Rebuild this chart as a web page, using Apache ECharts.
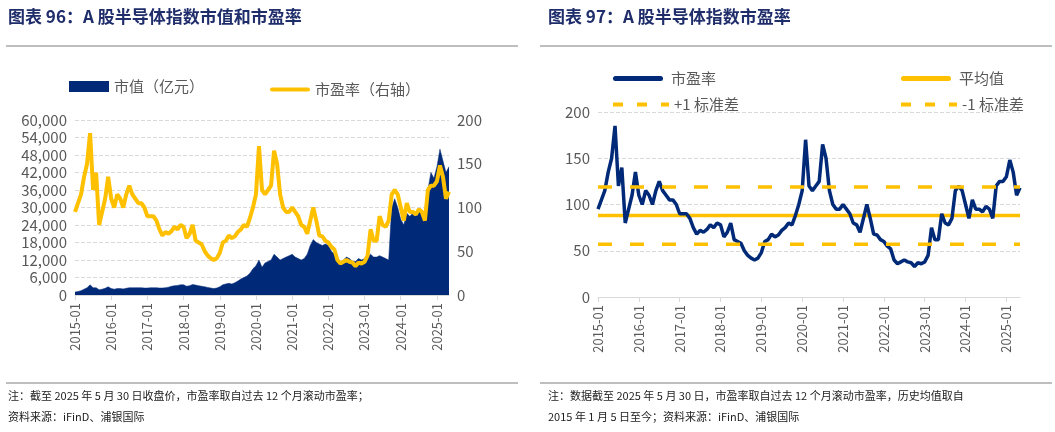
<!DOCTYPE html>
<html><head><meta charset="utf-8">
<script src="https://cdn.jsdelivr.net/npm/echarts@6/dist/echarts.min.js"></script>
<style>html,body{margin:0;padding:0;background:#fff}#c{width:1055px;height:432px}</style>
</head><body><div id="c"></div>
<script>
const months = [];
for (let y = 2015; y <= 2025; y++) for (let m = 1; m <= 12; m++) { if (y === 2025 && m > 5) break; months.push(y + '-' + String(m).padStart(2, '0')); }
const peValues = [95,105,115,135,150,185,120,140,80,95,110,135,
 110,100,115,110,100,115,125,115,110,105,105,100,
 90,90,90,85,75,68,72,70,73,78,75,80,
 78,65,70,80,62,60,58,50,45,42,40,42,
 48,60,62,68,65,67,72,75,80,78,88,100,
 115,170,120,115,120,125,165,150,115,100,95,95,
 100,95,90,80,78,70,85,100,85,68,67,62,
 60,55,52,40,36,38,40,38,37,33,37,36,
 38,45,75,62,62,90,80,78,85,115,120,115,
 100,85,105,95,95,92,98,95,85,120,125,125,
 130,148,135,110,118];
const mcapValues = [1000,1200,1500,2000,2500,3500,2500,2500,1800,2000,2300,2800,
 2200,2000,2200,2200,2100,2300,2500,2500,2500,2500,2500,2400,
 2400,2500,2500,2500,2400,2400,2500,2700,3000,3200,3300,3500,
 3500,3000,3200,3600,3400,3200,3000,2800,2600,2400,2200,2400,
 2800,3500,3800,4000,3800,4200,4800,5500,6000,6500,7500,9000,
 10000,12000,9500,11000,11500,12000,14000,13000,12000,12500,13000,13500,
 14000,13000,12500,12000,12500,14000,17000,19000,18000,17500,17000,17500,
 17000,15000,14000,12000,11000,12000,13000,12500,11500,11500,12500,12000,
 12500,13000,14000,13000,13000,13500,13000,12500,12000,30000,33000,30000,
 26000,24000,28000,27000,28000,27000,29000,28000,27000,36000,42000,40000,
 44000,50000,46000,42000,44000];
const peMean = 88, pePlus = 119, peMinus = 57;
const title1 = '图表 96：A 股半导体指数市值和市盈率';
const title2 = '图表 97：A 股半导体指数市盈率';
const note1 = '注：截至 2025 年 5 月 30 日收盘价，市盈率取自过去 12 个月滚动市盈率；';
const src1 = '资料来源：iFinD、浦银国际';
const note2 = '注：数据截至 2025 年 5 月 30 日，市盈率取自过去 12 个月滚动市盈率，历史均值取自';
const src2 = '2015 年 1 月 5 日至今；资料来源：iFinD、浦银国际';

const NAVY = '#002a77', GOLD = '#ffc000', GREY = '#595959';
const FONT = '"Noto Sans CJK SC","Noto Sans",sans-serif';
const xLab = {rotate: 90, color: GREY, fontSize: 13, fontFamily: FONT,
  interval: (i, v) => v.endsWith('-01'), formatter: v => v};
const xTick = {show: true, length: 5, lineStyle: {color: '#d9d9d9'}, interval: (i, v) => v.endsWith('-01')};
const yLab = {color: GREY, fontSize: 15, fontFamily: FONT};
const split = {show: true, lineStyle: {color: '#d9d9d9', type: 'dashed'}};
const c = (v) => new Array(months.length).fill(v);
const LINE_ICON = 'path://M2,0h36a2,2 0 0 1 0,4h-36a2,2 0 0 1 0,-4z';
const DASH_ICON = 'path://M0,0h10v4h-10z M24,0h10v4h-10z M48,0h8v4h-8z';

const chart = echarts.init(document.getElementById('c'));
chart.setOption({
  animation: false,
  textStyle: {fontFamily: FONT},
  graphic: [
    {type: 'text', left: 8, top: 8, style: {text: title1, fontSize: 17, fontWeight: 'bold', fill: '#1f2d6b', fontFamily: FONT}},
    {type: 'text', left: 548, top: 8, style: {text: title2, fontSize: 17, fontWeight: 'bold', fill: '#1f2d6b', fontFamily: FONT}},
    {type: 'line', shape: {x1: 6, y1: 46, x2: 518, y2: 46}, style: {stroke: '#7f7f7f', lineWidth: 1}},
    {type: 'line', shape: {x1: 540, y1: 46, x2: 1052, y2: 46}, style: {stroke: '#7f7f7f', lineWidth: 1}},
    {type: 'line', shape: {x1: 6, y1: 383, x2: 518, y2: 383}, style: {stroke: '#7f7f7f', lineWidth: 1}},
    {type: 'line', shape: {x1: 540, y1: 383, x2: 1052, y2: 383}, style: {stroke: '#7f7f7f', lineWidth: 1}},
    {type: 'text', left: 8, top: 390, style: {text: note1, fontSize: 11, fill: '#222', fontFamily: FONT}},
    {type: 'text', left: 8, top: 411, style: {text: src1, fontSize: 11, fill: '#222', fontFamily: FONT}},
    {type: 'text', left: 548, top: 390, style: {text: note2, fontSize: 11, fill: '#222', fontFamily: FONT}},
    {type: 'text', left: 548, top: 411, style: {text: src2, fontSize: 11, fill: '#222', fontFamily: FONT}}
  ],
  legend: [
    {data: [{name: '市值（亿元）', icon: 'rect'}], left: 64, top: 74, itemWidth: 40, itemHeight: 11,
      textStyle: {color: GREY, fontSize: 15}},
    {data: [{name: '市盈率（右轴）', icon: LINE_ICON}], left: 265, top: 77, itemWidth: 40, itemHeight: 5,
      textStyle: {color: GREY, fontSize: 15}},
    {data: [{name: '市盈率', icon: LINE_ICON}, {name: '平均值', icon: LINE_ICON}], left: 608, top: 66, itemWidth: 56, itemHeight: 5, itemGap: 185, textStyle: {color: GREY, fontSize: 15}},
    {data: [{name: '+1 标准差', icon: DASH_ICON}, {name: '-1 标准差', icon: DASH_ICON}], left: 608, top: 92, itemWidth: 56, itemHeight: 5, itemGap: 162, textStyle: {color: GREY, fontSize: 15}}
  ],
  grid: [
    {left: 75, right: 606, top: 120, bottom: 137},
    {left: 598, right: 35, top: 112, bottom: 135}
  ],
  xAxis: [
    {type: 'category', gridIndex: 0, data: months, boundaryGap: false, axisLabel: xLab, axisTick: xTick,
      axisLine: {lineStyle: {color: '#d9d9d9'}}},
    {type: 'category', gridIndex: 1, data: months, boundaryGap: false, axisLabel: xLab, axisTick: xTick,
      axisLine: {lineStyle: {color: '#d9d9d9'}}}
  ],
  yAxis: [
    {type: 'value', gridIndex: 0, min: 0, max: 60000, interval: 6000, axisLabel: Object.assign({}, yLab, {formatter: v => v.toLocaleString('en-US')}), splitLine: split},
    {type: 'value', gridIndex: 0, min: 0, max: 200, interval: 50, axisLabel: yLab, splitLine: {show: false}},
    {type: 'value', gridIndex: 1, min: 0, max: 200, interval: 50, axisLabel: yLab, splitLine: split}
  ],
  series: [
    {name: '市值（亿元）', type: 'line', xAxisIndex: 0, yAxisIndex: 0, data: mcapValues, symbol: 'none',
      lineStyle: {width: 0.5, color: NAVY}, itemStyle: {color: NAVY}, areaStyle: {color: NAVY, opacity: 1}},
    {name: '市盈率（右轴）', type: 'line', xAxisIndex: 0, yAxisIndex: 1, data: peValues, symbol: 'none',
      lineStyle: {width: 4, color: GOLD}, itemStyle: {color: GOLD}},
    {name: '市盈率', type: 'line', xAxisIndex: 1, yAxisIndex: 2, data: peValues, symbol: 'none',
      lineStyle: {width: 3.5, color: NAVY}, itemStyle: {color: NAVY}, z: 5},
    {name: '平均值', type: 'line', xAxisIndex: 1, yAxisIndex: 2, data: c(peMean), symbol: 'none',
      lineStyle: {width: 3.5, color: GOLD}, itemStyle: {color: GOLD}, z: 3},
    {name: '+1 标准差', type: 'line', xAxisIndex: 1, yAxisIndex: 2, data: c(pePlus), symbol: 'none',
      lineStyle: {width: 3.5, color: GOLD, type: [14, 18]}, itemStyle: {color: GOLD}, z: 6},
    {name: '-1 标准差', type: 'line', xAxisIndex: 1, yAxisIndex: 2, data: c(peMinus), symbol: 'none',
      lineStyle: {width: 3.5, color: GOLD, type: [14, 18]}, itemStyle: {color: GOLD}, z: 6}
  ]
});
</script></body></html>
